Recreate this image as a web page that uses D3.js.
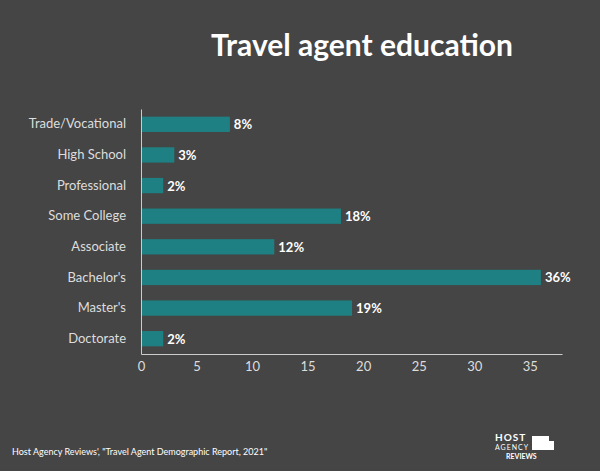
<!DOCTYPE html>
<html><head><meta charset="utf-8">
<script src="https://cdn.jsdelivr.net/npm/d3@7"></script>
<style>body{margin:0;background:#454545}</style></head>
<body><svg id="c" width="600" height="471"></svg>
<script>
const categories=["Trade/Vocational","High School","Professional","Some College","Associate","Bachelor's","Master's","Doctorate"];
const values=[8,3,2,18,12,36,19,2];
const ticks=[0,5,10,15,20,25,30,35];
const svg=d3.select("#c");
svg.append("rect").attr("width",600).attr("height",471).attr("fill","#454545");
svg.append("text").attr("x",362).attr("y",56).attr("text-anchor","middle").attr("fill","#fff")
 .attr("font-family","Lato").attr("font-weight","bold").attr("font-size",30).text("Travel agent education");
const x=d3.scaleLinear().domain([0,37.9]).range([141,562]);
const y=d3.scaleBand().domain(categories).range([109,354]).paddingInner(0.5).paddingOuter(0.25);
svg.selectAll(".bar").data(values).join("rect").attr("x",x(0)).attr("y",(d,i)=>y(categories[i]))
 .attr("width",d=>x(d)-x(0)).attr("height",y.bandwidth()).attr("fill","#1e8082");
svg.selectAll(".lab").data(values).join("text").attr("x",d=>x(d)+4).attr("y",(d,i)=>y(categories[i])+y.bandwidth()/2+5)
 .attr("fill","#fff").attr("font-family","Lato").attr("font-weight","bold").attr("font-size",13).text(d=>d+"%");
const ga=svg.append("g").attr("transform","translate(0,354)").call(d3.axisBottom(x).tickValues(ticks).tickSize(0).tickPadding(8));
ga.select(".domain").attr("stroke","#ccc");
ga.selectAll("text").attr("fill","#ddd").attr("font-family","Lato").attr("font-size",13);
const gy=svg.append("g").attr("transform","translate(141,0)").call(d3.axisLeft(y).tickSize(0).tickPadding(15));
gy.select(".domain").attr("stroke","#ccc");
gy.selectAll("text").attr("fill","#ddd").attr("font-family","Lato").attr("font-size",13);
svg.append("text").attr("x",12).attr("y",455).attr("fill","#fff").attr("font-family","Lato").attr("font-size",9)
 .text("Host Agency Reviews', \"Travel Agent Demographic Report, 2021\"");
const lg=svg.append("g").attr("font-family","Lato").attr("fill","#fff").attr("font-weight","bold");
lg.append("text").attr("x",495).attr("y",441).attr("font-size",10).attr("letter-spacing",1).text("HOST");
lg.append("text").attr("x",495).attr("y",450).attr("font-size",7).attr("font-weight","normal").attr("letter-spacing",1).text("AGENCY");
lg.append("text").attr("x",506).attr("y",459).attr("font-size",7).text("REVIEWS");
lg.append("rect").attr("x",532).attr("y",436).attr("width",17).attr("height",14).attr("fill","#fff");
lg.append("rect").attr("x",548).attr("y",441).attr("width",6).attr("height",9).attr("fill","#fff");
</script></body></html>
